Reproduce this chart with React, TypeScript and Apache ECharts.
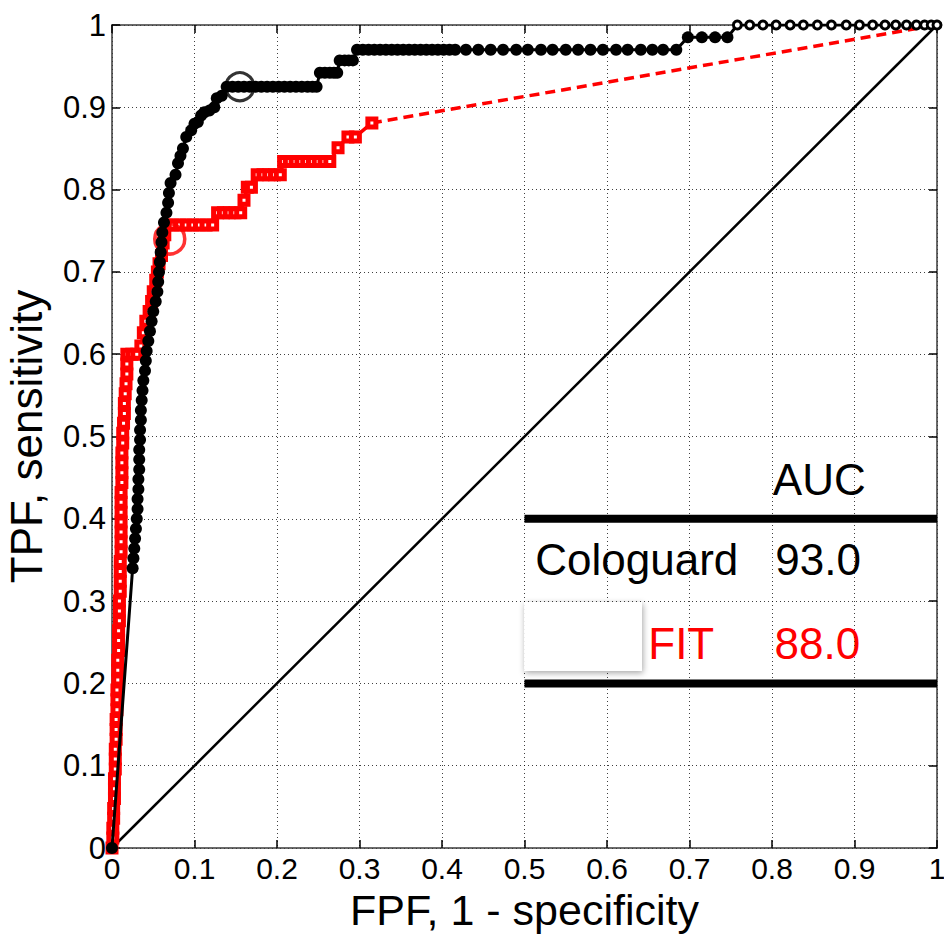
import React, { useEffect, useRef } from "react";
import * as echarts from "echarts";

const cologuardFPF = [
  0, 0.025, 0.026, 0.027, 0.028, 0.029, 0.03, 0.031, 0.031, 0.032, 0.032, 0.033, 0.033, 0.033, 0.034, 0.034,
  0.035, 0.035, 0.036, 0.037, 0.038, 0.04, 0.041, 0.042, 0.044, 0.046, 0.048, 0.05, 0.053, 0.055, 0.056,
  0.057, 0.058, 0.059, 0.06, 0.061, 0.063, 0.066, 0.068, 0.069, 0.071, 0.077, 0.08, 0.083, 0.086, 0.09,
  0.096, 0.1, 0.104, 0.108, 0.112, 0.118, 0.124, 0.127, 0.133, 0.139, 0.146, 0.153, 0.16, 0.167, 0.174,
  0.181, 0.188, 0.195, 0.202, 0.209, 0.216, 0.223, 0.23, 0.237, 0.243, 0.248, 0.252, 0.258, 0.264, 0.269,
  0.273, 0.276, 0.282, 0.287, 0.292, 0.297, 0.304, 0.311, 0.318, 0.325, 0.332, 0.339, 0.346, 0.353, 0.36,
  0.367, 0.374, 0.381, 0.388, 0.395, 0.402, 0.409, 0.416, 0.429, 0.444, 0.459, 0.474, 0.49, 0.504, 0.52,
  0.534, 0.55, 0.565, 0.58, 0.595, 0.611, 0.625, 0.641, 0.655, 0.668, 0.684, 0.698, 0.715, 0.731, 0.746,
];
const cologuardTPF = [
  0, 0.34, 0.352, 0.364, 0.376, 0.388, 0.4, 0.412, 0.424, 0.436, 0.448, 0.46, 0.472, 0.484, 0.496, 0.508,
  0.52, 0.532, 0.544, 0.556, 0.568, 0.58, 0.592, 0.604, 0.616, 0.628, 0.64, 0.652, 0.664, 0.676, 0.688,
  0.7, 0.712, 0.724, 0.736, 0.748, 0.76, 0.772, 0.784, 0.796, 0.808, 0.818, 0.832, 0.841, 0.85, 0.864,
  0.872, 0.88, 0.882, 0.89, 0.894, 0.896, 0.9, 0.911, 0.914, 0.925, 0.925, 0.925, 0.925, 0.925, 0.925,
  0.925, 0.925, 0.925, 0.925, 0.925, 0.925, 0.925, 0.925, 0.925, 0.925, 0.925, 0.942, 0.942, 0.942, 0.942,
  0.942, 0.957, 0.957, 0.957, 0.957, 0.97, 0.97, 0.97, 0.97, 0.97, 0.97, 0.97, 0.97, 0.97, 0.97,
  0.97, 0.97, 0.97, 0.97, 0.97, 0.97, 0.97, 0.97, 0.97, 0.97, 0.97, 0.97, 0.97, 0.97, 0.97,
  0.97, 0.97, 0.97, 0.97, 0.97, 0.97, 0.97, 0.97, 0.97, 0.97, 0.97, 0.985, 0.985, 0.985, 0.985,
];
// top plateau (TPF = 1) points of the Cologuard curve
const cologuardTopFPF = [
  0.758, 0.773, 0.789, 0.805, 0.822, 0.838, 0.855, 0.872, 0.89, 0.906, 0.922, 0.937, 0.95, 0.963, 0.975,
  0.985, 0.993, 1.0,
];
const cologuardTopTPF = [1, 1, 1, 1, 1, 1, 1, 1, 1, 1, 1, 1, 1, 1, 1, 1, 1, 1];

const fitFPF = [
  0, 0.001, 0.001, 0.002, 0.002, 0.003, 0.003, 0.003, 0.004, 0.004, 0.004, 0.005, 0.005, 0.005, 0.006,
  0.006, 0.006, 0.007, 0.007, 0.007, 0.008, 0.008, 0.008, 0.009, 0.009, 0.009, 0.01, 0.01, 0.01, 0.01,
  0.011, 0.011, 0.011, 0.011, 0.011, 0.011, 0.011, 0.012, 0.012, 0.012, 0.012, 0.013, 0.013, 0.014, 0.015,
  0.015, 0.016, 0.017, 0.018, 0.018, 0.018, 0.024, 0.03, 0.035, 0.038, 0.041, 0.045, 0.048, 0.05, 0.053,
  0.055, 0.057, 0.06, 0.062, 0.064, 0.066, 0.074, 0.082, 0.09, 0.098, 0.106, 0.114, 0.122, 0.128, 0.135,
  0.142, 0.149, 0.156, 0.16, 0.164, 0.169, 0.176, 0.183, 0.19, 0.197, 0.204, 0.208, 0.215, 0.222, 0.229,
  0.236, 0.243, 0.25, 0.257, 0.264, 0.274, 0.286, 0.295, 0.315,
];
const fitTPF = [
  0, 0.012, 0.024, 0.036, 0.048, 0.06, 0.072, 0.084, 0.096, 0.108, 0.12, 0.132, 0.144, 0.156, 0.168,
  0.18, 0.192, 0.204, 0.216, 0.228, 0.24, 0.252, 0.264, 0.276, 0.288, 0.3, 0.312, 0.324, 0.336, 0.348,
  0.36, 0.372, 0.384, 0.396, 0.408, 0.42, 0.432, 0.444, 0.456, 0.468, 0.48, 0.492, 0.504, 0.516, 0.528,
  0.54, 0.552, 0.564, 0.576, 0.588, 0.6, 0.6, 0.6, 0.61, 0.626, 0.64, 0.652, 0.664, 0.676, 0.69,
  0.7, 0.71, 0.72, 0.735, 0.745, 0.757, 0.757, 0.757, 0.757, 0.757, 0.757, 0.757, 0.757, 0.772, 0.772,
  0.772, 0.772, 0.772, 0.787, 0.803, 0.803, 0.818, 0.818, 0.818, 0.818, 0.818, 0.834, 0.834, 0.834, 0.834,
  0.834, 0.834, 0.834, 0.834, 0.834, 0.851, 0.864, 0.864, 0.881,
];
// extrapolated (dashed) part of FIT curve
const fitDashFPF = [0.315, 1];
const fitDashTPF = [0.881, 1];

const chanceFPF = [0, 1];
const chanceTPF = [0, 1];

// operating points
const cologuardOpPoint = [0.155, 0.925];
const fitOpPoint = [0.07, 0.74];

// AUC table
const tableHeader = "AUC";
const tableNames = ["Cologuard", "FIT"];
const tableAUC = ["93.0", "88.0"];
const tableColors = ["#000000", "#ff0000"];
const tableRuleTPF = [0.4, 0.2];
const tableRuleFPF = [0.5, 1];

const FONT = "'Liberation Sans', Arial, Helvetica, sans-serif";

const zip = (a: number[], b: number[]) => a.map((v, i) => [v, b[i]]);

export default function App() {
  const ref = useRef<HTMLDivElement>(null);
  useEffect(() => {
    document.body.style.margin = "0";
    const chart = echarts.init(ref.current!, null, { renderer: "svg" });
    const gridLine = { show: true, lineStyle: { color: "#000", width: 1, type: [1, 3] as any, opacity: 0.75 } };
    const axisLine = { show: true, onZero: false, lineStyle: { color: "#3a3a3a", width: 1.5 } };
    const tick = { show: true, inside: true, length: 8, lineStyle: { color: "#000", width: 1.5 } };
    const label = { fontFamily: FONT, fontSize: 30, color: "#000", lineHeight: 26 };

    const cologuardData = zip(cologuardFPF, cologuardTPF).map((v) => ({ value: v }));
    const topData = zip(cologuardTopFPF, cologuardTopTPF).map((v) => ({
      value: v,
      symbol: "circle",
      symbolSize: 8,
      itemStyle: { borderWidth: 3, color: "#fff", borderColor: "#000" },
    }));

    chart.setOption({
      animation: false,
      backgroundColor: "#fff",
      grid: { left: 112, top: 25, width: 825, height: 823, show: false, outerBoundsMode: "none", containLabel: false },
      xAxis: [
        {
          type: "value", min: 0, max: 1, interval: 0.1, position: "bottom",
          axisLine, axisTick: tick, splitLine: gridLine,
          axisLabel: { ...label, margin: 7 },
          name: "FPF, 1 - specificity", nameLocation: "middle", nameGap: 42, nameMoveOverlap: false,
          nameTextStyle: { fontFamily: FONT, fontSize: 43, color: "#000", lineHeight: 40 },
        },
        {
          type: "value", min: 0, max: 1, interval: 0.1, position: "top",
          axisLine, axisTick: tick, splitLine: { show: false }, axisLabel: { show: false },
        },
      ],
      yAxis: [
        {
          type: "value", min: 0, max: 1, interval: 0.1, position: "left",
          axisLine, axisTick: tick, splitLine: gridLine,
          axisLabel: { ...label, fontSize: 31, margin: 6 },
          name: "TPF, sensitivity", nameLocation: "middle", nameGap: 64, nameRotate: 90, nameMoveOverlap: false,
          nameTextStyle: { fontFamily: FONT, fontSize: 44, color: "#000" },
        },
        {
          type: "value", min: 0, max: 1, interval: 0.1, position: "right",
          axisLine, axisTick: tick, splitLine: { show: false }, axisLabel: { show: false },
        },
      ],
      series: [
        {
          type: "line", data: zip(chanceFPF, chanceTPF), symbol: "none",
          lineStyle: { color: "#000", width: 2.5 }, z: 2,
        },
        {
          type: "line", data: zip(fitDashFPF, fitDashTPF), symbol: "none",
          lineStyle: { color: "#ff0000", width: 3.5, type: [10, 6] as any }, z: 3,
        },
        {
          type: "line", data: zip(fitFPF, fitTPF), symbol: "rect", symbolSize: 8,
          itemStyle: { color: "#fff", borderColor: "#ff0000", borderWidth: 5 },
          lineStyle: { color: "#ff0000", width: 3.5 }, z: 3,
        },
        {
          type: "scatter", data: [fitOpPoint], symbol: "circle", symbolSize: 30,
          itemStyle: { color: "transparent", borderColor: "#ff0000", borderWidth: 3.5 }, z: 4,
        },
        {
          type: "line", data: [...cologuardData, ...topData], symbol: "circle", symbolSize: 12,
          itemStyle: { color: "#000", borderColor: "#000", borderWidth: 0 },
          lineStyle: { color: "#000", width: 3 }, z: 5,
        },
        {
          type: "scatter", data: [cologuardOpPoint], symbol: "circle", symbolSize: 28,
          itemStyle: { color: "transparent", borderColor: "#000", borderWidth: 3 }, z: 6,
        },
        ...tableRuleTPF.map((t) => ({
          type: "line", data: tableRuleFPF.map((f) => [f, t]), symbol: "none",
          lineStyle: { color: "#000", width: 8 }, z: 7,
        })),
      ],
    });

    const p = (x: number, y: number) => chart.convertToPixel({ gridIndex: 0 }, [x, y]) as number[];
    const boxTL = p(0.4995, 0.299);
    const boxBR = p(0.6424, 0.215);
    const hdr = p(0.801, 0.431);
    const n1 = p(0.513, 0.334);
    const v1 = p(0.804, 0.334);
    const n2 = p(0.65, 0.231);
    const v2 = p(0.803, 0.231);
    const ts = (x: number, y: number, text: string, fill: string) => ({
      type: "text", x, y, z: 100,
      style: { text, fill, font: `44px ${FONT}`, textAlign: "left", textVerticalAlign: "bottom" },
    });
    chart.setOption({
      graphic: [
        {
          type: "rect", z: 90,
          shape: { x: boxTL[0], y: boxTL[1], width: boxBR[0] - boxTL[0], height: boxBR[1] - boxTL[1] },
          style: { fill: "#fff", shadowBlur: 6, shadowColor: "rgba(0,0,0,0.35)", shadowOffsetX: 1, shadowOffsetY: 2 },
        },
        ts(hdr[0], hdr[1] + 8, tableHeader, "#000"),
        ts(n1[0], n1[1] + 8, tableNames[0], tableColors[0]),
        ts(v1[0], v1[1] + 8, tableAUC[0], tableColors[0]),
        ts(n2[0], n2[1] + 8, tableNames[1], tableColors[1]),
        ts(v2[0], v2[1] + 8, tableAUC[1], tableColors[1]),
      ],
    });
    return () => chart.dispose();
  }, []);
  return (
    <div
      ref={ref}
      style={{ position: "absolute", left: 0, top: 0, width: 944, height: 934, background: "#fff" }}
    />
  );
}
